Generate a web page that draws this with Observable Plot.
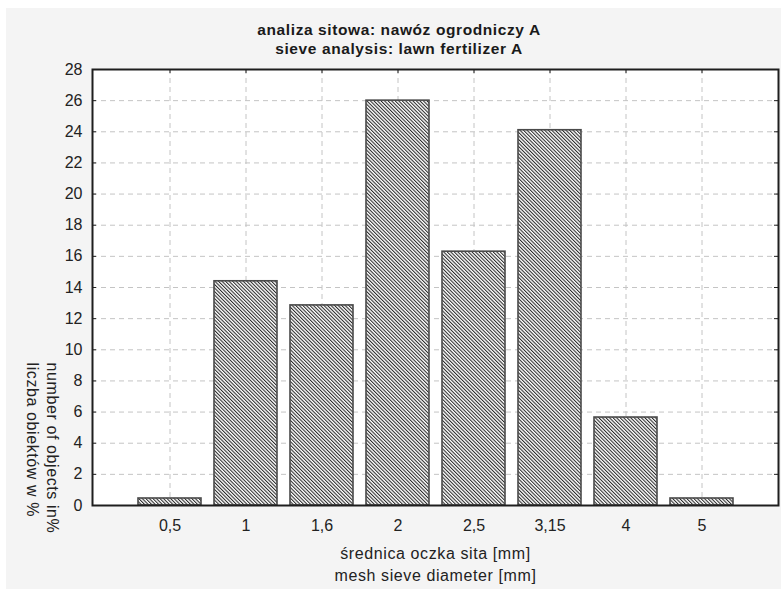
<!DOCTYPE html>
<html>
<head>
<meta charset="utf-8">
<script src="https://cdn.jsdelivr.net/npm/d3@7"></script>
<script src="https://cdn.jsdelivr.net/npm/@observablehq/plot@0.6"></script>
<style>
  body { margin: 0; background: #ffffff; }
  #wrap { position: relative; width: 781px; height: 589px; overflow: hidden; font-family: "Liberation Sans", Arial, sans-serif; }
  #bg { position: absolute; left: 6px; top: 8px; right: 0; bottom: 0; background: #f4f4f4; }
  #title { position: absolute; left: 0; top: 20px; width: 798px; text-align: center; font-weight: bold; font-size: 15.5px; line-height: 19px; color: #1a1a1a; letter-spacing: 0.6px; }
  #chart { position: absolute; left: 0; top: 60px; }
</style>
</head>
<body>
<div id="wrap">
  <div id="bg"></div>
  <div id="title">analiza sitowa: nawóz ogrodniczy A<br>sieve analysis: lawn fertilizer A</div>
  <div id="chart"></div>
</div>
<script>
// ---- data ----
const categories = ["0,5", "1", "1,6", "2", "2,5", "3,15", "4", "5"];
const shares = [0.45, 14.4, 12.85, 26.0, 16.3, 24.1, 5.65, 0.45];
const yTicks = [0, 2, 4, 6, 8, 10, 12, 14, 16, 18, 20, 22, 24, 26, 28];
const xTitle = ["średnica oczka sita [mm]", "mesh sieve diameter [mm]"];
const yTitle = ["number of objects in%", "liczba obiektów w %"];

const rows = categories.map((c, i) => ({cat: c, value: shares[i]}));

const W = 781, H = 529, mT = 9, mB = 84, mL = 92, mR = 3;
const fw = W - mL - mR, fh = H - mT - mB;

const chart = Plot.plot({
  width: W, height: H,
  marginTop: mT, marginBottom: mB, marginLeft: mL, marginRight: mR,
  style: {background: "transparent", fontFamily: "'Liberation Sans', Arial, sans-serif", fontSize: "16px", color: "#222"},
  x: {type: "band", domain: categories, paddingInner: 0.172, paddingOuter: 0.59, label: null},
  y: {domain: [0, 28], label: null},
  marks: [
    Plot.frame({fill: "white", stroke: "none"}),
    Plot.gridY(yTicks, {stroke: "#c4c4c4", strokeOpacity: 1, strokeDasharray: "5,4"}),
    Plot.gridX(categories, {stroke: "#c4c4c4", strokeOpacity: 1, strokeDasharray: "5,4"}),
    Plot.barY(rows, {x: "cat", y: "value", fill: "url(#hatch)", stroke: "#4a4a4a", strokeWidth: 1.6}),
    Plot.tickY(yTicks, {y: d => d, stroke: "#222", insetRight: fw - 4}),
    Plot.tickY(yTicks, {y: d => d, stroke: "#222", insetLeft: fw - 4}),
    Plot.tickX(categories, {x: d => d, stroke: "#222", insetBottom: fh - 4}),
    Plot.axisY(yTicks, {tickSize: 0, tickPadding: 10, fontSize: 16, tickFormat: d => String(d)}),
    Plot.axisX(categories, {tickSize: 0, tickPadding: 14, fontSize: 16}),
    Plot.frame({stroke: "#1e1e1e", strokeWidth: 2}),
    Plot.text([xTitle.join("\n")], {text: d => d, frameAnchor: "bottom", dy: 38, lineAnchor: "top", lineHeight: 1.38, fontSize: 16, fill: "#222", letterSpacing: 0.5}),
    Plot.text([yTitle.join("\n")], {text: d => d, frameAnchor: "left", dx: -49, dy: 75, rotate: 90, textAnchor: "start", lineAnchor: "middle", lineHeight: 1.25, fontSize: 16, fill: "#222"})
  ]
});

// letter spacing for the axis titles (style only)
chart.querySelectorAll("text").forEach(t => {
  if (t.textContent.includes("mm]") || t.textContent.includes("%")) t.setAttribute("letter-spacing", "0.6");
});

// hatch pattern definition
const ns = "http://www.w3.org/2000/svg";
const defs = document.createElementNS(ns, "defs");
const pat = document.createElementNS(ns, "pattern");
pat.setAttribute("id", "hatch");
pat.setAttribute("patternUnits", "userSpaceOnUse");
pat.setAttribute("width", "2.5");
pat.setAttribute("height", "10");
pat.setAttribute("patternTransform", "rotate(-45)");
const bgr = document.createElementNS(ns, "rect");
bgr.setAttribute("width", "2.5"); bgr.setAttribute("height", "10"); bgr.setAttribute("fill", "#ffffff");
const ln = document.createElementNS(ns, "rect");
ln.setAttribute("x", "0"); ln.setAttribute("width", "1.05"); ln.setAttribute("height", "10"); ln.setAttribute("fill", "#2a2a2a");
pat.appendChild(bgr); pat.appendChild(ln);
defs.appendChild(pat);
chart.insertBefore(defs, chart.firstChild);

document.getElementById("chart").appendChild(chart);
</script>
</body>
</html>
